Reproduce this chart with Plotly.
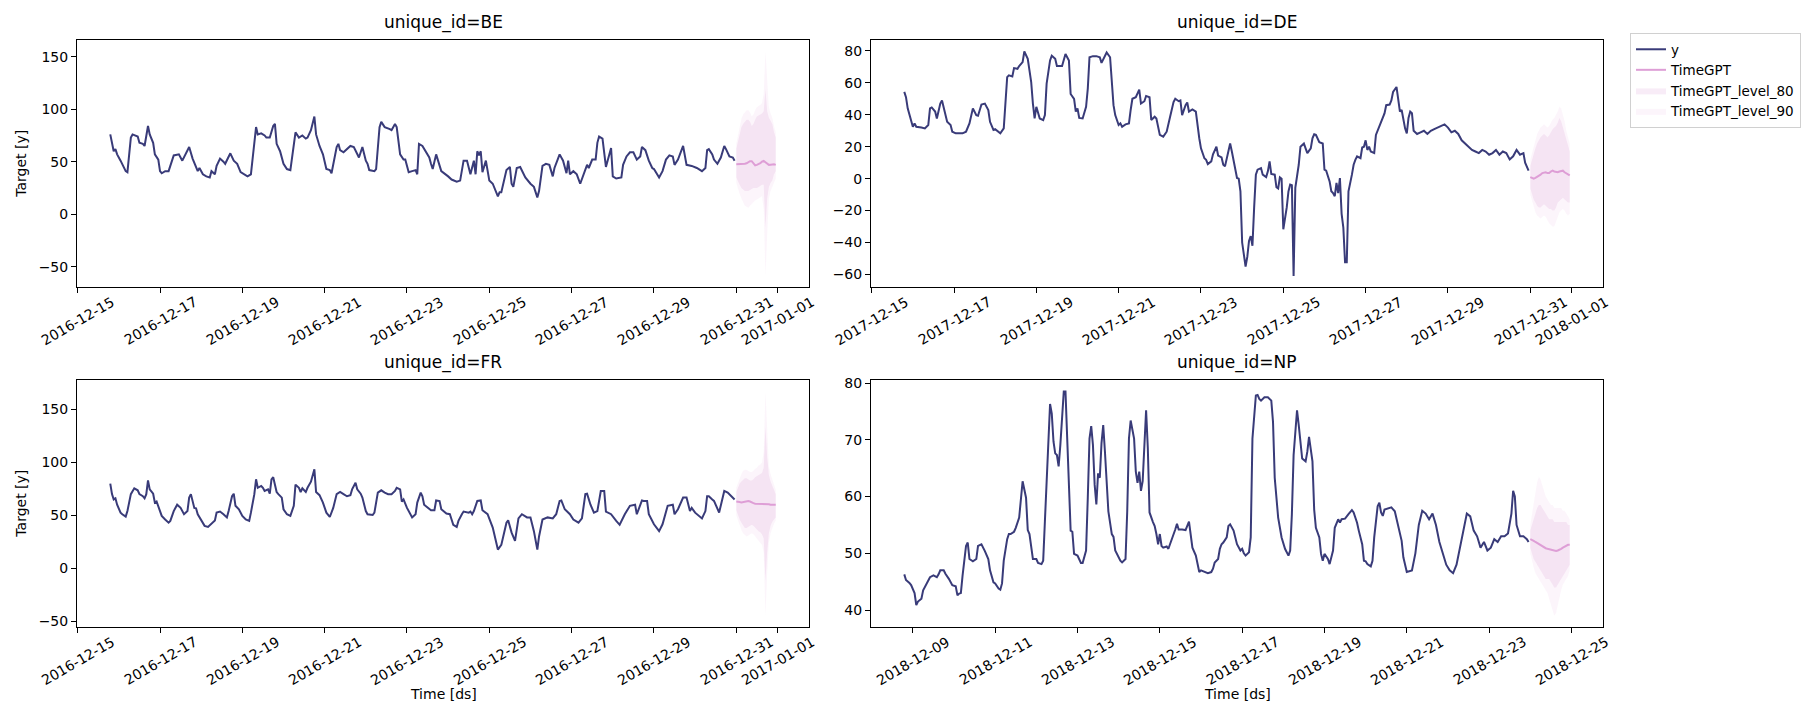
import pandas as pd
import plotly.graph_objects as go

# ---------------- data ----------------
UNIQUE_IDS = ["BE", "DE", "FR", "NP"]
HIST_START = {"BE": "2016-12-15 19:00", "DE": "2017-12-15 19:00",
              "FR": "2016-12-15 19:00", "NP": "2018-12-08 19:00"}
HORIZON_START_HOUR = 365  # first forecast hour offset from history start

BE_HOURS = [0,2,3,4,6,7,9,10,12,13,16,17,19,20,22,23,25,26,28,29,30,32,34,37,40,42,43,46,48,50,51,52,54,56,58,59,61,62,64,66,67,70,72,74,76,80,82,85,86,88,90,91,93,95,96,97,99,101,103,105,108,110,112,114,115,117,119,120,122,124,126,128,129,132,133,134,136,140,142,145,147,149,150,151,154,155,157,158,160,163,164,166,167,169,171,172,174,176,178,179,180,182,184,186,187,188,190,191,193,197,199,202,204,206,208,210,212,213,214,215,216,217,219,221,223,226,227,228,230,231,233,234,235,237,239,242,245,247,249,250,252,254,256,258,259,262,264,266,267,268,270,272,274,277,278,279,281,283,284,285,287,289,291,292,293,295,298,299,301,303,305,307,309,310,312,314,316,317,320,322,324,326,328,329,331,334,336,339,342,345,347,348,349,351,352,354,356,358,359,360,361,363,364]
BE_Y = [76,60,62,57,51,48,41,40,73,76,74,68,67,65,84,76,68,57,52,41,39,41,41,56,57,51,54,64,53,45,41,44,38,36,35,41,38,46,53,50,48,58,51,48,40,36,38,83,76,77,75,73,73,84,86,67,60,48,43,42,78,73,75,72,73,80,93,76,65,57,43,42,39,64,67,61,59,65,64,54,64,51,48,42,41,43,83,88,83,81,80,86,83,57,52,52,40,41,42,38,67,65,59,54,48,43,57,51,41,36,33,31,32,51,51,38,51,38,60,56,60,40,51,32,29,17,21,21,36,42,45,29,26,44,45,35,29,26,16,22,46,48,47,36,44,57,51,39,51,38,41,38,29,44,47,44,52,52,68,74,72,45,57,63,36,34,35,47,55,59,59,52,55,64,61,51,44,43,35,41,52,56,55,47,52,65,47,46,44,41,44,61,62,57,52,48,54,65,62,59,55,54,51]

DE_HOURS = [0,1,2,4,5,6,7,10,12,14,15,16,18,19,21,22,23,25,27,28,30,34,36,38,40,42,43,45,47,49,50,52,53,55,56,58,60,61,63,64,66,67,69,70,72,73,74,75,76,77,79,81,82,83,85,86,88,89,92,94,95,96,97,99,100,101,102,104,106,107,108,110,112,114,115,117,118,120,121,122,123,125,126,127,129,131,132,133,135,137,138,140,141,143,144,146,147,149,151,153,155,157,158,160,161,162,164,165,166,168,170,171,172,173,175,176,177,179,180,182,183,185,186,187,188,190,191,192,194,195,196,197,198,199,200,201,202,203,204,205,206,208,209,211,212,213,214,216,217,218,219,220,221,223,224,225,226,227,228,229,230,231,233,234,235,237,238,239,240,242,244,245,246,248,249,250,251,252,253,254,255,256,257,258,259,261,262,263,264,266,267,268,269,270,271,272,274,275,277,278,280,281,283,284,285,287,288,289,290,292,293,294,295,296,297,299,301,303,305,307,309,311,313,315,317,319,321,323,325,327,329,331,333,335,337,339,341,343,345,347,349,351,353,355,357,359,361,362,364]
DE_Y = [54.3,51,44,36.7,32.5,34.6,32.5,32,31.5,33.6,44,44.6,42,37.7,47,49,45,35.6,33.6,29.4,28.4,28.4,29.4,34.6,44,39.8,39.4,46.4,47,42.9,35.6,30.5,31,29.4,28.4,31.5,63.6,64.7,64,69.2,68.8,70.5,73,79.6,75,67.8,60.5,47,37.7,45,37.7,36.7,39.8,59.5,74,77,75,70.5,70.5,78,76,74,53,50,42,44,38,37.7,45,56.4,76,76.7,76.7,76,72.5,77,79,76,62.6,46,39.8,33.6,34.6,32.5,34,34.6,43,50,51,55.8,47,48.5,51.8,51,36.7,38.8,37.7,27.4,26.3,29.4,38.8,48,50,48.5,49,39.8,46,47.7,42,43.3,42,31.5,25.3,19,12.8,11.8,9.1,10.8,15.3,20,14.5,13.3,8.7,7.7,12.8,22,17,10.8,0.4,0,-7.9,-40,-47,-55,-49,-39,-36,-42,-18,2.5,5.6,6.6,2.5,1,4.6,10.8,2.9,2.5,-5.4,-6.2,0.8,0,-31.7,-18,-8,-3.7,-4.1,-61,-5.8,0.4,8.7,20,22,19,16,19,25.3,27.8,27.4,22.8,22,5.6,5,-1.7,-7.9,-9,-11,-2.7,-9,0.4,-22,-30.7,-52.4,-52.4,-7.9,2.5,8.7,11.8,13.9,12.8,19.5,20,24,18,20,17,16,27.4,32.5,35.6,40.8,46,46.4,49,54.3,57.4,49,42,43,31.5,28.4,38,42,41,30,28,29,30,28,30,31,32,33,34,32,29,30,28,24,22,20,18,17,16,18,17,15,16,18,15,17,16,12,14,18,15,16,10,5]

FR_HOURS = [0,1,2,3,4,6,7,9,10,12,14,16,17,19,20,21,22,23,25,26,27,29,30,32,34,35,37,39,41,43,45,46,47,49,50,51,53,55,57,59,61,62,64,66,68,69,71,72,73,75,77,79,81,82,84,85,86,88,89,90,92,93,94,95,97,98,100,101,103,105,107,108,110,111,112,114,115,117,119,120,122,124,126,128,130,132,134,136,138,140,141,143,144,146,147,149,150,153,154,156,158,160,162,164,166,167,169,170,171,173,174,176,178,179,181,182,183,185,187,189,190,192,193,196,198,199,200,202,203,205,206,209,210,211,212,214,216,217,219,220,223,226,228,230,231,232,234,236,238,240,243,245,247,249,250,252,255,258,260,262,263,265,268,270,273,275,277,278,280,282,284,286,288,289,292,295,297,300,303,306,307,310,311,313,314,317,320,322,325,328,329,331,334,336,338,339,341,345,347,348,349,351,352,355,356,358,360,363,364]
FR_Y = [80,70,65,66,60,52.5,51,48.7,54,70,75.5,73.6,70,68,66,70,83,74.5,70.4,62,63,54,49.4,46,43,44.7,54,60,57,51,54,66.7,70,57,56.6,51,46,40,39,42,45,52.5,53.5,51,48,54,68,70.4,59,55.7,49.4,46,44.7,52.5,70,84,76,77.7,76,73,74.5,70.4,84,86,72,70,66.7,55.7,51,49.4,59,79,76,72,75.5,72,76,81.8,93.4,72,69,62,52.5,48.4,57,70,72,70,68,69,74.5,80.8,74.5,70.4,66.7,54,51,50.3,52.5,71.4,73.6,71.4,70,70,73,76,74.5,63,65,57,54,48,51,62,71.4,68,60,57,54.7,54.7,64,63.5,55.7,51.6,51,46,41,39,44.7,51,53.5,52.5,53.5,51,54,63.5,64,54.7,52.5,51,38.4,17.6,22,38.4,43,45.3,33.6,25.8,47,51,48,48,35,17.6,30,46,48,47,51,63.5,64,55.7,51,46,43,47,70,70.4,60,52.5,54,73,73,53.5,51,44.7,41,51,59,60,51,64,63.5,63.5,51,41.5,35,41.5,59,60,51,55.7,66.7,66.7,54,57,52.5,47,54,68,68,65,63.6,52.6,59,73,71.4,67.3,65]

NP_HOURS = [0,1,3,4,6,7,8,10,11,13,15,17,19,20,21,23,24,26,28,30,31,32,33,34,36,37,38,40,42,43,45,47,49,50,52,53,55,56,57,58,60,61,62,64,65,67,68,69,71,72,73,74,75,77,78,80,81,82,84,85,86,87,88,89,90,91,93,94,95,97,98,99,101,102,103,104,106,107,108,109,110,111,112,113,114,115,116,117,118,119,121,122,123,125,126,127,129,130,131,132,134,135,136,137,138,139,140,141,142,143,145,146,147,148,149,150,151,153,154,155,157,158,159,160,162,164,166,167,168,170,171,172,173,175,177,179,180,181,183,184,185,186,188,189,190,192,193,194,196,197,198,199,201,202,203,205,206,207,208,210,212,214,215,216,218,219,220,222,224,225,226,227,229,230,231,232,234,235,236,237,238,239,240,242,243,244,245,247,248,250,251,253,254,255,257,259,261,262,264,265,267,268,269,270,272,273,274,276,277,278,279,280,283,284,286,288,290,291,293,296,298,300,302,304,306,308,310,312,314,316,318,320,322,324,326,328,330,332,334,336,338,340,342,344,346,348,350,352,354,355,356,357,359,361,363,364]
NP_Y = [46.3,45.3,44.8,44.4,43,40.9,41.5,42,43.5,44.7,45.8,46.1,45.8,46.3,47,47,46.4,45.5,44.4,44.2,42.6,42.9,43,46.1,51.3,51.9,49,48.6,49,51.3,51.6,50.4,49,47,44.9,44.7,43.8,43.6,44.7,48.7,52.5,53.4,53.4,53.8,54.5,56.3,60,62.7,59.8,54.1,53.4,51.3,49,49,48.3,48.1,48.7,55.7,68.5,76.3,74.6,69.7,67.6,67.3,65.3,69.1,78.5,78.5,70.2,54,53.8,49.9,49.6,49,48.3,48.3,50.5,59.8,70.2,72.4,69.1,62.1,58.6,64.1,63.3,69.4,72.6,67.9,62.1,57.4,53.4,52.9,50.5,49.3,48.7,48.4,49,57.4,70.2,73.4,70.2,64.4,62.4,64.4,61,62.7,68.5,75.2,68.5,57.2,55.5,54.8,53.4,51.6,53.4,51.3,51,51.2,50.8,51.6,53.1,54.2,55.2,54.2,54.2,54.1,55.6,53.4,51,49.6,48.1,46.7,47,46.8,46.5,46.7,47.3,48.4,49,50.8,51.6,51.9,52.8,54.8,55.1,54,52.5,51.6,50.5,50.8,50,49.6,50.2,52.8,70.2,77.8,77.9,77.2,76.9,77.5,77.5,76.9,73.1,63.3,56.3,54.5,52.8,50.8,49.6,50.5,56.9,67.3,75.2,72.6,69.1,66.7,66.2,67.9,70.5,67.9,66.2,57.7,54.5,52.8,49.9,48.7,49.9,49,48.1,50.5,54.5,56,55.4,56,56.1,56.9,57.6,57.2,55.4,54,51.6,48.7,48.6,48.1,47.7,48.7,52.8,58.3,58.9,57.2,56.6,57.7,57.9,58.1,57.4,54.5,52.2,49.3,46.7,47,50,55,57.5,57,56,57,55,52,50,48,47,46.5,48,51,54,57,56.5,54,53,51,52,50.5,51,52.5,52,53,53,53.5,57,61,60,55,53,53,52.5,52]

# 24-hour forecasts (TimeGPT mean and 80/90 intervals)
BE_FC = [47.5,47.5,47.5,47.8,48,48,48.5,49.5,50.5,50.5,48,46.5,47,47.5,48.5,50,50.8,49.5,48,47,47.2,47.5,47.5,47]
BE_LO80 = [35,31,28,25,23,22,22,22,23,24,25,25,25,26,27,28,28,-13,15,26,30,32,38,41]
BE_HI80 = [62,70,77,83,86,88,90,90,88,84,86,90,93,94,95,96,98,119,98,92,89,86,78,73]
BE_LO90 = [30,24,19,15,11,8,7,6,8,10,12,13,14,15,16,17,5,-59,-20,15,22,26,30,34]
BE_HI90 = [67,76,84,91,95,97,99,99,97,93,95,99,102,103,104,106,115,155,125,102,96,92,84,78]

DE_FC = [1,0.5,0,0.5,1,1.5,2.5,3.5,4,4,3.5,3.5,4.5,5,4.5,4,4,4.5,5,5,4,3.5,3,2]
DE_LO80 = [-6,-10,-13,-15,-17,-18,-18,-17,-16,-17,-18,-19,-19,-20,-20,-18,-15,-14,-13,-12,-13,-14,-15,-15]
DE_HI80 = [8,12,15,19,22,24,26,27,28,27,26,27,29,31,32,33,35,38,36,32,29,24,20,17]
DE_LO90 = [-10,-14,-18,-21,-23,-24,-25,-24,-23,-24,-26,-28,-29,-30,-30,-27,-23,-21,-20,-19,-20,-22,-23,-22]
DE_HI90 = [12,16,20,25,28,30,32,33,34,33,32,33,35,37,38,40,42,45,44,40,36,30,25,22]

FR_FC = [63,63,62.5,62,62.5,63,63.5,63.5,63,62,61.5,61,61,60.5,60.5,60.5,61,61,60.5,60.5,60,60,60.5,60]
FR_LO80 = [55,50,46,43,40,38,38,39,40,41,40,38,36,35,34,32,28,-12,15,33,40,44,46,48]
FR_HI80 = [72,76,80,82,84,85,85,84,83,83,84,86,87,88,89,90,95,134,105,88,82,78,74,70]
FR_LO90 = [50,45,40,36,33,31,30,31,32,33,32,30,28,27,25,22,15,-45,-5,24,33,38,42,45]
FR_HI90 = [76,81,86,89,92,93,93,92,91,91,92,94,95,97,98,100,110,167,125,96,89,84,79,74]

NP_FC = [52.5,52.4,52.2,52,51.8,51.6,51.4,51.2,51,50.9,50.8,50.7,50.6,50.5,50.4,50.4,50.5,50.6,50.8,51,51.2,51.3,51.5,51.5]
NP_LO80 = [51,50,49,48.5,48,47.5,47,46.5,46,45.5,45.5,45.5,45,44.5,44,44,44.5,45,45.5,46,46.5,47,47.5,48]
NP_HI80 = [54,55,56,57,58,58.5,58.5,58,57.5,57,56.5,56,56,56,55.5,55.5,55.5,55.5,55.5,55.5,55.5,55.5,55,55]
NP_LO90 = [50,48.5,47.5,46.5,46,45.5,45,44.5,44,43.5,43,42,41,40,39,39.5,41,42.5,43.5,44.5,45,45.5,46,47]
NP_HI90 = [55,57,59,61,62.5,63.5,63,62,61,60,59.5,59,58.5,58.5,58,58,58,58,58,57.5,57.5,57,56.5,56]

BE_TICKS = ["2016-12-15","2016-12-17","2016-12-19","2016-12-21","2016-12-23","2016-12-25","2016-12-27","2016-12-29","2016-12-31","2017-01-01"]
DE_TICKS = ["2017-12-15","2017-12-17","2017-12-19","2017-12-21","2017-12-23","2017-12-25","2017-12-27","2017-12-29","2017-12-31","2018-01-01"]
FR_TICKS = BE_TICKS
NP_TICKS = ["2018-12-09","2018-12-11","2018-12-13","2018-12-15","2018-12-17","2018-12-19","2018-12-21","2018-12-23","2018-12-25"]
Y_DTICK = {"BE": 50, "DE": 20, "FR": 50, "NP": 10}

DATA = {
    "BE": (BE_HOURS, BE_Y, BE_FC, BE_LO80, BE_HI80, BE_LO90, BE_HI90, BE_TICKS),
    "DE": (DE_HOURS, DE_Y, DE_FC, DE_LO80, DE_HI80, DE_LO90, DE_HI90, DE_TICKS),
    "FR": (FR_HOURS, FR_Y, FR_FC, FR_LO80, FR_HI80, FR_LO90, FR_HI90, FR_TICKS),
    "NP": (NP_HOURS, NP_Y, NP_FC, NP_LO80, NP_HI80, NP_LO90, NP_HI90, NP_TICKS),
}

# ---------------- style / layout ----------------
W, H = 1815, 711
Y_COLOR = "#393b79"
FC_COLOR = "#de9ed6"
FILL80 = "rgba(222,158,214,0.2)"
FILL90 = "rgba(222,158,214,0.1)"
FONT = "DejaVu Sans"

COLS = [(69, 801), (863, 1595)]
ROWS = [(32.3, 279.3), (372.3, 619.0)]
POS = {"BE": (0, 0), "DE": (0, 1), "FR": (1, 0), "NP": (1, 1)}

fig = go.Figure()
annotations = []

for idx, uid in enumerate(UNIQUE_IDS):
    hours, yv, fc, lo80, hi80, lo90, hi90, ticks = DATA[uid]
    n = idx + 1
    xa = "x" if n == 1 else f"x{n}"
    ya = "y" if n == 1 else f"y{n}"
    start = pd.Timestamp(HIST_START[uid])
    t_hist = [start + pd.Timedelta(hours=h) for h in hours]
    t_fc = [start + pd.Timedelta(hours=HORIZON_START_HOUR + i) for i in range(len(fc))]
    first = idx == 0

    # 90 band
    fig.add_trace(go.Scatter(x=t_fc, y=lo90, mode="lines", line=dict(width=0, color=FILL90),
                             showlegend=False, hoverinfo="skip", xaxis=xa, yaxis=ya))
    fig.add_trace(go.Scatter(x=t_fc, y=hi90, mode="lines", line=dict(width=0, color=FILL90),
                             fill="tonexty", fillcolor=FILL90, name="TimeGPT_level_90",
                             legendgroup="l90", showlegend=first, legendrank=4, xaxis=xa, yaxis=ya))
    # 80 band
    fig.add_trace(go.Scatter(x=t_fc, y=lo80, mode="lines", line=dict(width=0, color=FILL80),
                             showlegend=False, hoverinfo="skip", xaxis=xa, yaxis=ya))
    fig.add_trace(go.Scatter(x=t_fc, y=hi80, mode="lines", line=dict(width=0, color=FILL80),
                             fill="tonexty", fillcolor=FILL80, name="TimeGPT_level_80",
                             legendgroup="l80", showlegend=first, legendrank=3, xaxis=xa, yaxis=ya))
    # history
    fig.add_trace(go.Scatter(x=t_hist, y=yv, mode="lines", line=dict(width=2, color=Y_COLOR),
                             name="y", legendgroup="y", showlegend=first, legendrank=1,
                             xaxis=xa, yaxis=ya))
    # forecast
    fig.add_trace(go.Scatter(x=t_fc, y=fc, mode="lines", line=dict(width=2, color=FC_COLOR),
                             name="TimeGPT", legendgroup="fc", showlegend=first, legendrank=2,
                             xaxis=xa, yaxis=ya))

    # ranges like matplotlib autoscale (5% margins)
    t_end = t_fc[-1]
    span = t_end - start
    xr = [start - 0.05 * span, t_end + 0.05 * span]
    allv = list(yv) + list(fc) + list(lo80) + list(hi80) + list(lo90) + list(hi90)
    vmin, vmax = min(allv), max(allv)
    m = 0.05 * (vmax - vmin)
    yr = [vmin - m, vmax + m]

    r, c = POS[uid]
    x0, x1 = COLS[c]
    top, bot = ROWS[r]
    xdom = [x0 / W, x1 / W]
    ydom = [1 - bot / H, 1 - top / H]

    axis_common = dict(showline=True, linecolor="black", linewidth=1, mirror=True,
                       ticks="outside", ticklen=5, tickwidth=1, tickcolor="black",
                       showgrid=False, zeroline=False, automargin=False,
                       tickfont=dict(family=FONT, size=14, color="black"))
    fig.update_layout({
        ("xaxis" if n == 1 else f"xaxis{n}"): dict(
            axis_common, domain=xdom, anchor=ya, type="date",
            range=[str(xr[0]), str(xr[1])],
            tickvals=ticks, showticklabels=False),
        ("yaxis" if n == 1 else f"yaxis{n}"): dict(
            axis_common, domain=ydom, anchor=xa, range=yr,
            tick0=0, dtick=Y_DTICK[uid]),
    })

    # rotated date labels centred on their ticks (matplotlib style)
    for t in ticks:
        annotations.append(dict(text=t, xref=xa, yref="paper", x=t, y=ydom[0],
                                xanchor="center", yanchor="top", yshift=-5,
                                textangle=-30, showarrow=False, borderpad=0,
                                font=dict(family=FONT, size=14, color="black")))

    annotations.append(dict(text=f"unique_id={uid}", xref="paper", yref="paper",
                            x=(xdom[0] + xdom[1]) / 2, y=ydom[1], xanchor="center",
                            yanchor="bottom", yshift=5, showarrow=False,
                            font=dict(family=FONT, size=17, color="black")))
    if c == 0:
        annotations.append(dict(text="Target [y]", xref="paper", yref="paper",
                                x=13 / W, y=(ydom[0] + ydom[1]) / 2, textangle=-90,
                                xanchor="center", yanchor="middle", showarrow=False,
                                font=dict(family=FONT, size=14, color="black")))
    if r == 1:
        annotations.append(dict(text="Time [ds]", xref="paper", yref="paper",
                                x=(xdom[0] + xdom[1]) / 2, y=1 - 686 / H,
                                xanchor="center", yanchor="middle", showarrow=False,
                                font=dict(family=FONT, size=14, color="black")))

fig.update_layout(
    width=W, height=H, margin=dict(l=0, r=0, t=0, b=0, autoexpand=False),
    plot_bgcolor="white", paper_bgcolor="white",
    font=dict(family=FONT, size=14, color="black"),
    annotations=annotations,
    legend=dict(x=1622 / W, y=1 - 25 / H, xanchor="left", yanchor="top",
                bgcolor="rgba(255,255,255,0.8)", bordercolor="#d0d0d0", borderwidth=1,
                font=dict(family=FONT, size=13.5, color="black"),
                traceorder="normal", itemwidth=30, tracegroupgap=0),
    showlegend=True,
)

fig.write_html("out.html")
